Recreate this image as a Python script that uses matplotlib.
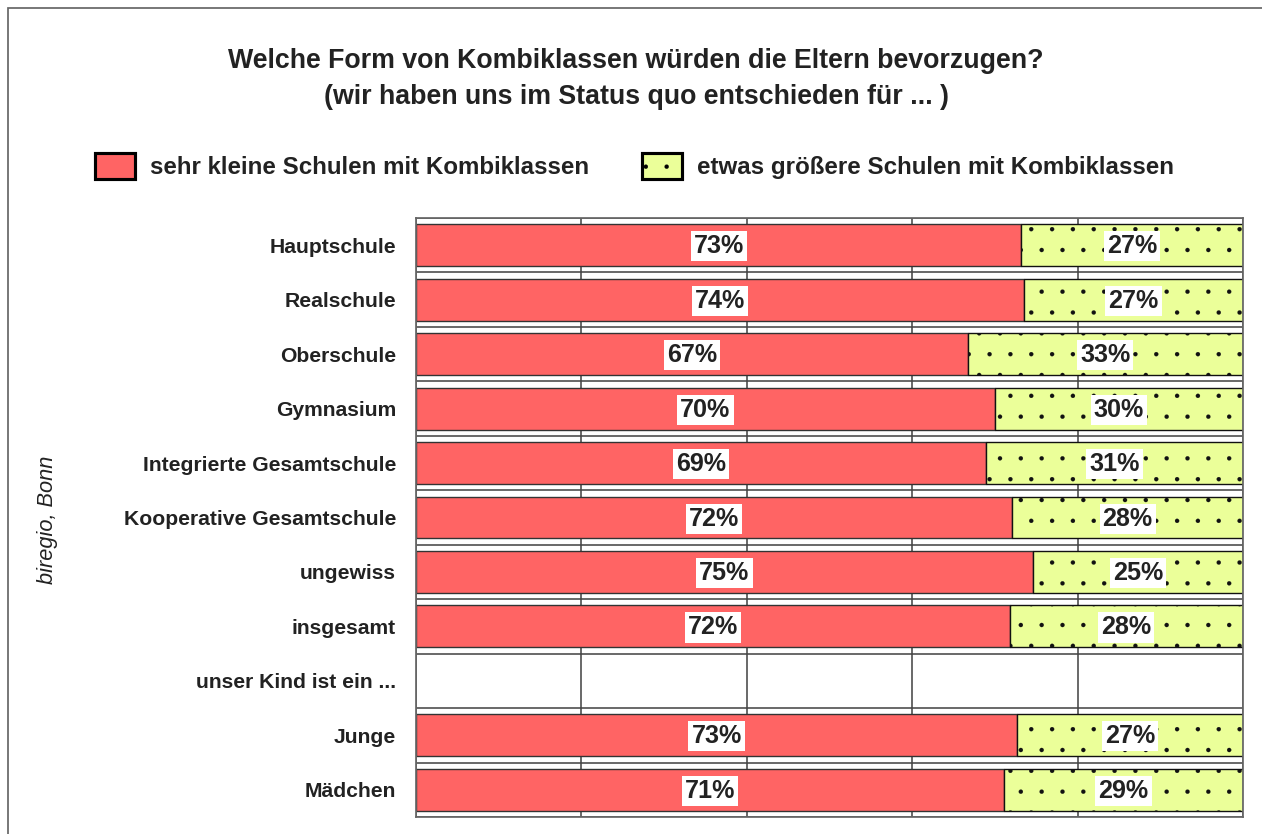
import matplotlib
matplotlib.use("Agg")
from matplotlib import pyplot as plt
from matplotlib.patches import Patch, Rectangle
import numpy as np

plt.rcParams['font.family'] = ['Liberation Sans', 'DejaVu Sans']
plt.rcParams['hatch.linewidth'] = 0.1

# data (share of "sehr kleine Schulen", in %)
categories = ["Hauptschule", "Realschule", "Oberschule", "Gymnasium",
              "Integrierte Gesamtschule", "Kooperative Gesamtschule",
              "ungewiss", "insgesamt", "unser Kind ist ein ...",
              "Junge", "Mädchen"]
small_share = [73.2, 73.5, 66.7, 70.0, 68.9, 72.1, 74.6, 71.8, np.nan, 72.7, 71.1]
large_share = [100 - v for v in small_share]

series_names = ["sehr kleine Schulen mit Kombiklassen",
                "etwas größere Schulen mit Kombiklassen"]
title = ("Welche Form von Kombiklassen würden die Eltern bevorzugen?\n"
         "(wir haben uns im Status quo entschieden für ... )")
source = "biregio, Bonn"

RED = "#ff6464"
GREEN = "#ebff99"

DPI = 125
fig = plt.figure(figsize=(1262 / DPI, 834 / DPI), dpi=DPI)
ax = fig.add_axes([416 / 1262, 1 - 817 / 834, 827 / 1262, 599 / 834])

y = np.arange(len(categories))
small = np.array(small_share)
large = np.array(large_share)

ax.barh(y, small, height=0.77, color=RED, edgecolor="#333333", linewidth=0.8, zorder=2)
ax.barh(y, large, left=small, height=0.77, color=GREEN, edgecolor="#111111",
        linewidth=0.8, hatch=".", zorder=2)


def fmt(v):
    return f"{int(v + 0.5)}%"


label_font = ['Liberation Sans Narrow', 'Liberation Sans']
for i in range(len(categories)):
    if np.isnan(small[i]):
        continue
    for x, v in ((small[i] / 2, small[i]), (small[i] + large[i] / 2, large[i])):
        ax.text(x, i + 0.02, fmt(v), ha="center", va="center", fontsize=14.5,
                fontweight="bold", color="#222222", family=label_font, zorder=4,
                bbox=dict(boxstyle="square,pad=0.12", fc="white", ec="none"))

ax.set_xlim(0, 100)
ax.set_ylim(len(categories) - 0.5, -0.5)
ax.set_xticks(np.arange(0, 101, 20))
ax.set_xticklabels([])
ax.set_yticks(y)
ax.set_yticklabels(categories, fontsize=12.2, fontweight="bold", color="#222222")
ax.set_yticks(np.arange(-0.5, len(categories), 1), minor=True)
ax.tick_params(axis="both", which="both", length=0)
ax.tick_params(axis="y", pad=11.5)
ax.grid(axis="x", which="major", color="#444444", linewidth=0.9, zorder=0)
ax.grid(axis="y", which="minor", color="#444444", linewidth=0.9, zorder=0)
ax.grid(axis="y", which="major", visible=False)
ax.set_axisbelow(True)
for s in ax.spines.values():
    s.set_color("#666666")
    s.set_linewidth(1.0)

fig.text(0.504, 1 - 79 / 834, title, ha="center", va="center", fontsize=15.4,
         fontweight="bold", color="#222222", linespacing=1.5)

handles = [Patch(facecolor=RED, edgecolor="black", linewidth=1.8),
           Patch(facecolor=GREEN, edgecolor="black", linewidth=1.8, hatch=".")]
fig.legend(handles, series_names, loc="center", bbox_to_anchor=(0.503, 1 - 166 / 834),
           ncol=2, frameon=False, prop=dict(size=13.9, weight="bold"),
           handlelength=1.66, handleheight=1.25, handletextpad=0.62,
           columnspacing=2.2, labelcolor="#222222")

fig.text(48 / 1262, 1 - 520 / 834, source, rotation=90, ha="center", va="center",
         fontsize=12.5, style="italic", color="#222222",
         family=['Liberation Sans Narrow', 'Liberation Sans'])

fig.patches.append(Rectangle((8 / 1262, -0.01), 1.1, 1 - 8 / 834 + 0.01,
                             transform=fig.transFigure, fill=False,
                             edgecolor="#666666", linewidth=1.0))

fig.savefig("out.png", dpi=DPI, facecolor="white")
